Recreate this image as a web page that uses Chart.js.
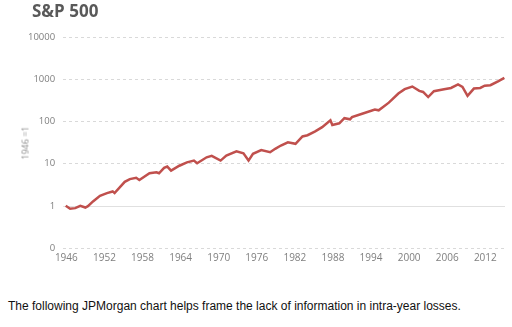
<!DOCTYPE html>
<html lang="en">
<head>
    <meta charset="UTF-8">
    <title>S&amp;P 500</title>
    <script src="https://cdn.jsdelivr.net/npm/chart.js"></script>
    <style>
        body { margin: 0; background: #fff; }
        #wrap { position: relative; width: 512px; height: 270px; }
        #title {
            position: absolute; left: 32px; top: 0px; margin: 0;
            font-family: "Open Sans", sans-serif; font-weight: bold; font-size: 17px;
            line-height: 22px; color: #595959;
        }
        #ytitle {
            position: absolute; left: 25px; top: 143px;
            transform: translate(-50%, -50%) rotate(-90deg);
            font-family: "Open Sans", sans-serif; font-size: 9px; color: #8c8c8c; white-space: nowrap;
        }
        #caption {
            position: absolute; left: 8px; top: 299px; margin: 0;
            font-family: "Liberation Sans", Arial, sans-serif; font-size: 12px; color: #111;
        }
    </style>
</head>
<body>
    <div id="wrap">
        <canvas id="spChart"></canvas>
        <div id="title">S&amp;P 500</div>
        <div id="ytitle">1946 =1</div>
    </div>
    <p id="caption">The following JPMorgan chart helps frame the lack of information in intra-year losses.</p>

    <script>
        // S&P 500 growth index, 1946 = 1 (log scale)
        const years = [1945.9, 1946.6, 1947.4, 1948.2, 1949.0, 1949.4, 1950.2, 1951.3, 1952.4, 1953.3,
            1953.6, 1955.2, 1956.0, 1957.0, 1957.5, 1959.1, 1960.2, 1960.6, 1961.4, 1961.9,
            1962.5, 1963.8, 1965.0, 1966.1, 1966.6, 1968.1, 1968.9, 1970.3, 1971.2, 1972.8,
            1973.9, 1974.7, 1975.4, 1976.7, 1978.1, 1978.9, 1979.8, 1980.9, 1982.1, 1983.2,
            1984.0, 1985.2, 1986.3, 1987.6, 1987.9, 1989.0, 1989.8, 1990.7, 1991.0, 1992.6,
            1994.6, 1995.2, 1996.8, 1998.3, 1999.3, 2000.5, 2001.6, 2002.2, 2003.0, 2003.9,
            2005.5, 2006.6, 2007.7, 2008.4, 2009.2, 2010.2, 2011.2, 2011.9, 2012.8, 2014.0,
            2015.0];
        const index = [1.0, 0.85, 0.88, 1.0, 0.91, 0.98, 1.27, 1.73, 2.0, 2.19,
            2.0, 3.7, 4.3, 4.6, 4.1, 5.9, 6.2, 5.9, 7.9, 8.5,
            6.8, 8.9, 10.7, 11.8, 10.2, 14.1, 15.3, 11.8, 15.5, 19.5,
            17.5, 11.8, 17.1, 21, 18.6, 22.4, 26.8, 32, 29.5, 44,
            47, 58, 73, 106, 82, 90, 119, 112, 126, 152,
            190, 183, 278, 457, 580, 670, 530, 498, 378, 520,
            580, 620, 750, 655, 405, 600, 620, 700, 720, 890,
            1080];
        const yTicks = [0.1, 1, 10, 100, 1000, 10000];
        const yTickLabels = ['0', '1', '10', '100', '1000', '10000'];
        const xTicks = [1946, 1952, 1958, 1964, 1970, 1976, 1982, 1988, 1994, 2000, 2006, 2012];

        const points = years.map((yr, i) => ({ x: yr, y: index[i] }));

        // solid base line at 1, other gridlines are dashed
        const baseLine = {
            id: 'baseLine',
            beforeDatasetsDraw(chart) {
                const { ctx, chartArea, scales } = chart;
                const y = Math.round(scales.y.getPixelForValue(1)) + 0.5;
                ctx.save();
                ctx.strokeStyle = '#e0e0e0';
                ctx.lineWidth = 1;
                ctx.beginPath();
                ctx.moveTo(chartArea.left, y);
                ctx.lineTo(chartArea.right, y);
                ctx.stroke();
                ctx.restore();
            }
        };

        new Chart(document.getElementById('spChart'), {
            type: 'line',
            data: {
                datasets: [{
                    data: points,
                    borderColor: '#c0504d',
                    borderWidth: 2.5,
                    pointRadius: 0,
                    tension: 0,
                    fill: false
                }]
            },
            options: {
                responsive: true,
                maintainAspectRatio: false,
                animation: false,
                layout: { padding: { left: 20, right: 7, top: 37, bottom: 2 } },
                plugins: {
                    legend: { display: false },
                    tooltip: { enabled: false }
                },
                scales: {
                    x: {
                        type: 'linear',
                        min: 1945.5,
                        max: 2015.1,
                        afterBuildTicks: (axis) => { axis.ticks = xTicks.map(v => ({ value: v })); },
                        ticks: {
                            color: '#7f7f7f',
                            font: { family: 'Open Sans', size: 10 },
                            padding: 4,
                            maxRotation: 0,
                            autoSkip: false,
                            callback: (v) => String(v)
                        },
                        grid: { display: false, drawTicks: false },
                        border: { display: false }
                    },
                    y: {
                        type: 'logarithmic',
                        min: 0.1,
                        max: 10000,
                        afterBuildTicks: (axis) => { axis.ticks = yTicks.map(v => ({ value: v })); },
                        ticks: {
                            color: '#7f7f7f',
                            font: { family: 'Open Sans', size: 9.5 },
                            padding: 8,
                            callback: (v) => yTickLabels[yTicks.indexOf(v)]
                        },
                        grid: {
                            drawTicks: false,
                            color: (c) => c.tick && c.tick.value === 1 ? 'rgba(0,0,0,0)' : '#d9d9d9',
                            lineWidth: 1
                        },
                        border: { display: false, dash: [3, 3] }
                    }
                }
            },
            plugins: [baseLine]
        });
    </script>
</body>
</html>
